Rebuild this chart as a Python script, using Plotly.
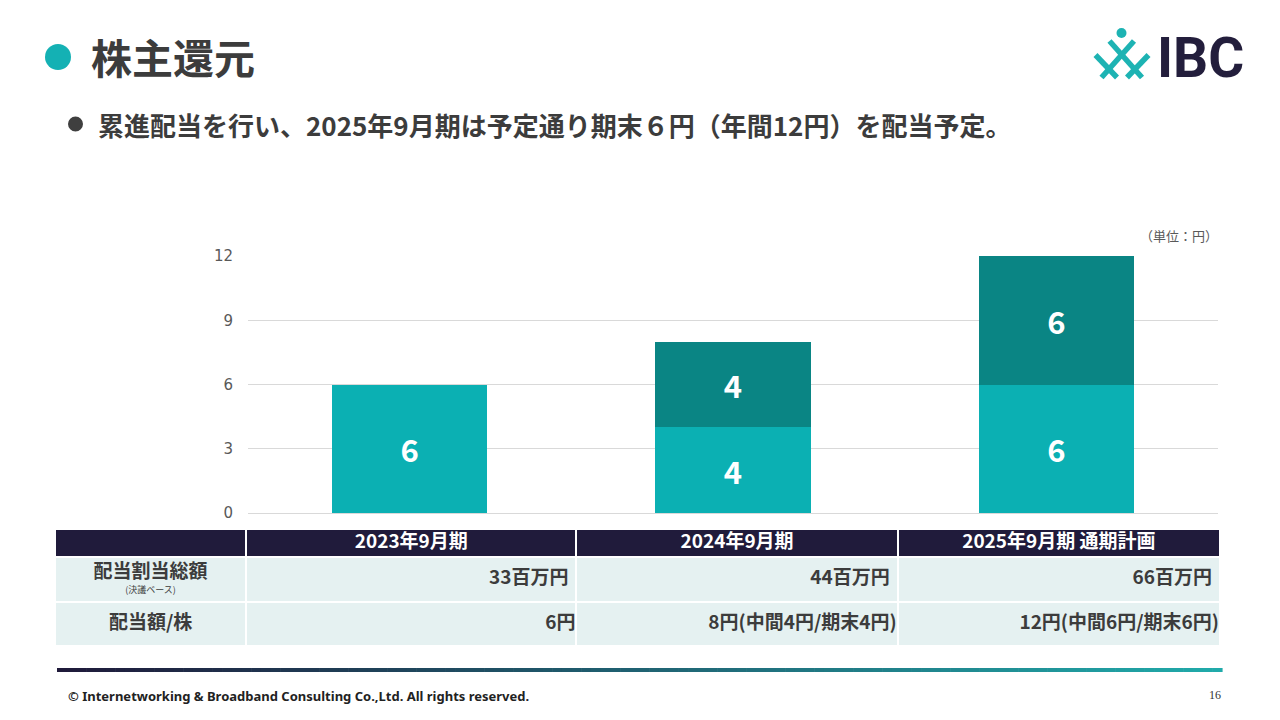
import plotly.graph_objects as go

# ---------------- data ----------------
categories = ["2023年9月期", "2024年9月期", "2025年9月期"]
lower_vals = [6, 4, 6]
upper_vals = [None, 4, 6]
y_ticks = [0, 3, 6, 9, 12]

table_header = ["", "2023年9月期", "2024年9月期", "2025年9月期 通期計画"]
row_labels = ["配当割当総額", "配当額/株"]
row_notes = ["(決議ベース)", ""]
row_total = ["33百万円", "44百万円", "66百万円"]
row_per_share = ["6円", "8円(中間4円/期末4円)", "12円(中間6円/期末6円)"]

title_text = "株主還元"
subtitle_text = "累進配当を行い、2025年9月期は予定通り期末６円（年間12円）を配当予定。"
unit_text = "（単位：円）"
footer_text = "© Internetworking & Broadband Consulting Co.,Ltd. All rights reserved."
page_no = "16"

# ---------------- layout helpers ----------------
W, H = 1280, 720
def px(x):
    return x / W
def py(y):
    return 1 - y / H

JP = "Noto Sans CJK JP, Noto Sans, sans-serif"
TXT = "#3C3C3C"
C_LOW = "#0BB0B3"
C_UP = "#0A8584"
NAVY = "#201B3B"
CELL = "#E5F1F1"

fig = go.Figure()

# ---------------- bars ----------------
bar_font = dict(family=JP, size=31, color="white", weight="bold")
fig.add_trace(go.Bar(
    x=categories, y=lower_vals, marker=dict(color=C_LOW, line=dict(width=0)),
    width=0.48, texttemplate="%{y}", textposition="inside",
    insidetextanchor="middle", textangle=0, textfont=bar_font,
    hoverinfo="skip", showlegend=False))
fig.add_trace(go.Bar(
    x=categories, y=upper_vals, marker=dict(color=C_UP, line=dict(width=0)),
    width=0.48, texttemplate="%{y}", textposition="inside",
    insidetextanchor="middle", textangle=0, textfont=bar_font,
    hoverinfo="skip", showlegend=False))

# ---------------- table (on its own axes) ----------------
col_w = [191, 330, 321, 322]
x_edges = [0]
for w in col_w:
    x_edges.append(x_edges[-1] + w)
y_edges = [0, 44, 89, 117]  # row2, row1, header (bottom -> top)
z = [[0] * len(col_w), [0] * len(col_w), [1] * len(col_w)]
fig.add_trace(go.Heatmap(
    x=x_edges, y=y_edges, z=z, xaxis="x2", yaxis="y2",
    colorscale=[[0, CELL], [1, NAVY]], zmin=0, zmax=1, showscale=False,
    xgap=2, ygap=2, hoverinfo="skip"))

col_mid = [(x_edges[i] + x_edges[i + 1]) / 2 for i in range(len(col_w))]
row_mid = [(y_edges[i] + y_edges[i + 1]) / 2 for i in range(3)]
cell_font = dict(family=JP, size=19, color=TXT, weight="bold")

# header texts
fig.add_trace(go.Scatter(
    x=col_mid[1:], y=[row_mid[2]] * 3, text=table_header[1:], mode="text",
    xaxis="x2", yaxis="y2", textposition="middle center",
    textfont=dict(family=JP, size=19, color="white", weight="bold"),
    hoverinfo="skip", showlegend=False))
# row labels
fig.add_trace(go.Scatter(
    x=[col_mid[0], col_mid[0]], y=[row_mid[1] + 6, row_mid[0]], text=row_labels,
    mode="text", xaxis="x2", yaxis="y2", textposition="middle center",
    textfont=cell_font, hoverinfo="skip", showlegend=False))
fig.add_trace(go.Scatter(
    x=[col_mid[0]], y=[row_mid[1] - 11], text=row_notes[:1],
    mode="text", xaxis="x2", yaxis="y2", textposition="middle center",
    textfont=dict(family=JP, size=9, color=TXT),
    hoverinfo="skip", showlegend=False))
# data cells (right aligned)
fig.add_trace(go.Scatter(
    x=[x_edges[i + 2] - 8 for i in range(3)], y=[row_mid[1]] * 3, text=row_total,
    mode="text", xaxis="x2", yaxis="y2", textposition="middle left",
    textfont=cell_font, hoverinfo="skip", showlegend=False))
fig.add_trace(go.Scatter(
    x=[x_edges[i + 2] - 1 for i in range(3)], y=[row_mid[0]] * 3, text=row_per_share,
    mode="text", xaxis="x2", yaxis="y2", textposition="middle left",
    textfont=cell_font, hoverinfo="skip", showlegend=False))

# ---------------- decorations ----------------
shapes = []
# title dot and bullet
shapes.append(dict(type="circle", xref="paper", yref="paper", x0=px(45), x1=px(71),
                   y0=py(70), y1=py(44), fillcolor="#14B1B4", line=dict(width=0)))
shapes.append(dict(type="circle", xref="paper", yref="paper", x0=px(68), x1=px(83),
                   y0=py(131.5), y1=py(116.5), fillcolor="#3F3F3F", line=dict(width=0)))
# gradient rule
n = 120
x0g, x1g = 57, 1222
c0 = (31, 26, 58)
c1 = (32, 170, 170)
for i in range(n):
    t = i / (n - 1)
    col = "rgb(%d,%d,%d)" % tuple(round(c0[k] + (c1[k] - c0[k]) * t) for k in range(3))
    xa = x0g + (x1g - x0g) * i / n
    xb = x0g + (x1g - x0g) * (i + 1) / n + 0.6
    shapes.append(dict(type="rect", xref="paper", yref="paper", x0=px(xa), x1=px(xb),
                       y0=py(672), y1=py(668), fillcolor=col, line=dict(width=0), layer="above"))
# logo mark
TEAL = "#1DB3B3"
shapes.append(dict(type="circle", xref="paper", yref="paper", x0=px(1116.5), x1=px(1126.5),
                   y0=py(38), y1=py(28), fillcolor=TEAL, line=dict(width=0)))
for (xa, ya, xb, yb) in [(1109.5, 41, 1142, 77.5), (1134, 41, 1101.5, 77.5),
                         (1095.5, 55, 1117, 77.5), (1148.5, 55, 1127, 77.5)]:
    shapes.append(dict(type="line", xref="paper", yref="paper", x0=px(xa), y0=py(ya),
                       x1=px(xb), y1=py(yb), line=dict(color=TEAL, width=5.5)))

annotations = [
    dict(text="<b>%s</b>" % title_text, x=px(89), y=py(56), xref="paper", yref="paper",
         xanchor="left", yanchor="middle", showarrow=False,
         font=dict(family=JP, size=41, color=TXT)),
    dict(text="<b>%s</b>" % subtitle_text, x=px(96), y=py(124), xref="paper", yref="paper",
         xanchor="left", yanchor="middle", showarrow=False,
         font=dict(family=JP, size=26, color=TXT)),
    dict(text=unit_text, x=px(1220), y=py(236), xref="paper", yref="paper",
         xanchor="right", yanchor="middle", showarrow=False,
         font=dict(family=JP, size=13, color="#595959")),
    dict(text="<b>%s</b>" % footer_text, x=px(66), y=py(696), xref="paper", yref="paper",
         xanchor="left", yanchor="middle", showarrow=False,
         font=dict(family="Noto Sans, sans-serif", size=13, color="#222222")),
    dict(text=page_no, x=px(1223), y=py(695), xref="paper", yref="paper",
         xanchor="right", yanchor="middle", showarrow=False,
         font=dict(family="Liberation Serif, serif", size=12, color="#333333")),
    dict(text="IBC", x=px(1155), y=py(58), xref="paper", yref="paper",
         xanchor="left", yanchor="middle", showarrow=False,
         font=dict(family="Roboto, sans-serif", size=55,
                   color="#231E3C", weight="bold")),
]

fig.update_layout(
    width=W, height=H, autosize=False,
    margin=dict(l=0, r=0, t=0, b=0, pad=0, autoexpand=False),
    paper_bgcolor="white", plot_bgcolor="white",
    barmode="stack", showlegend=False,
    shapes=shapes, annotations=annotations,
    xaxis=dict(domain=[px(248), px(1218)], range=[-0.5, 2.5], showticklabels=False,
               showgrid=False, zeroline=False, showline=False, fixedrange=True,
               automargin=False),
    yaxis=dict(domain=[py(513), py(256)], range=[0, 12], tickvals=y_ticks,
               showgrid=True, gridcolor="#D9D9D9", gridwidth=1, zeroline=True,
               zerolinecolor="#D9D9D9", zerolinewidth=1, showline=False,
               ticks="", ticklabelstandoff=14, automargin=False,
               tickfont=dict(family="DejaVu Sans, sans-serif", size=15, color="#595959"),
               fixedrange=True),
    xaxis2=dict(domain=[px(55), px(1220)], range=[0, x_edges[-1]], anchor="y2",
                visible=False, fixedrange=True, automargin=False),
    yaxis2=dict(domain=[py(646), py(529)], range=[0, y_edges[-1]], anchor="x2",
                visible=False, fixedrange=True, automargin=False),
)

fig.write_html(
    "out.html",
    config={"displayModeBar": False},
    post_script="document.body.style.margin='0';document.body.style.overflow='hidden';",
)
